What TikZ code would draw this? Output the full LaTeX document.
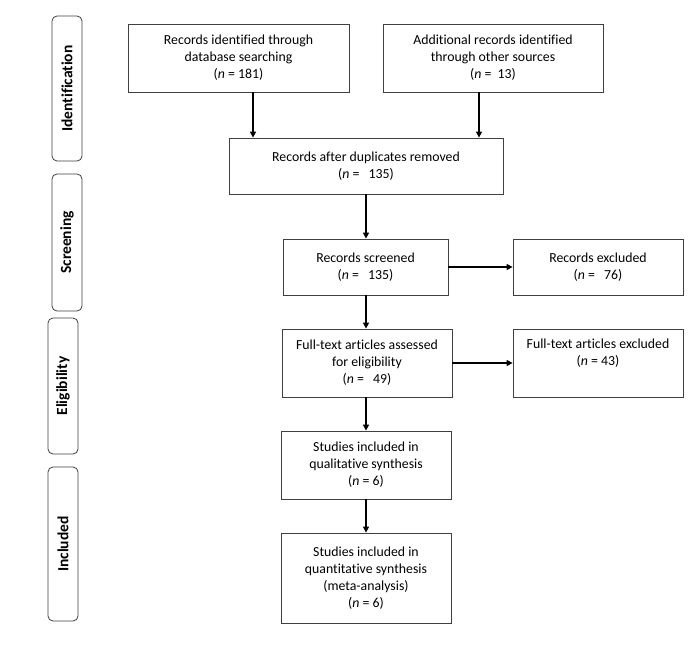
\documentclass[tikz,border=0pt]{standalone}
\usepackage{fontspec}
\setmainfont{Carlito}[RawFeature={-liga}]
\usetikzlibrary{arrows.meta}
\begin{document}
\begin{tikzpicture}[x=1pt,y=-1pt,
  box/.style={draw=black!75, line width=0.8pt, align=center, inner sep=2pt,
    font=\fontsize{13.8}{17}\selectfont},
  phase/.style={draw=black!75, line width=0.8pt, rounded corners=5pt, rotate=90,
    minimum height=30pt, inner sep=0pt, font=\fontsize{15.5}{18}\selectfont\bfseries},
  arr/.style={line width=1.4pt, -{Triangle[length=6pt,width=6pt]}}]
\fill[white] (0,0) rectangle (700,644);
\useasboundingbox (0,0) rectangle (700,644);

% phase labels
\node[phase, minimum width=145pt] (pid) at (67,88.5) {Identification};
\node[phase, minimum width=137pt] (psc) at (67,242.5) {Screening};
\node[phase, minimum width=136pt] (pel) at (63,386) {Eligibility};
\node[phase, minimum width=154pt] (pin) at (63,544) {Included};

% boxes
\node[box, minimum width=221pt, minimum height=68pt] (A) at (238.5,58)
  {Records identified through\\database searching\\(\textit{n} = 181)};
\node[box, minimum width=220pt, minimum height=68pt] (B) at (493,58)
  {Additional records identified\\through other sources\\(\textit{n} =\ \ 13)};
\node[box, minimum width=274pt, minimum height=56pt] (C) at (366,166)
  {Records after duplicates removed\\(\textit{n} =\ \ \ 135)};
\node[box, minimum width=165pt, minimum height=56pt] (D) at (365.5,267)
  {Records screened\\(\textit{n} =\ \ \ 135)};
\node[box, minimum width=170pt, minimum height=56pt] (E) at (598,267)
  {Records excluded\\(\textit{n} =\ \ \ 76)};
\node[box, minimum width=170pt, minimum height=68pt] (F) at (367,363)
  {Full-text articles assessed\\for eligibility\\(\textit{n} =\ \ \ 49)};
\node[box, minimum width=170pt, minimum height=68pt] (G) at (598,363)
  {Full-text articles excluded\\(\textit{n} = 43)\\\strut};
\node[box, minimum width=170pt, minimum height=68pt] (H) at (366,465)
  {Studies included in\\qualitative synthesis\\(\textit{n} = 6)};
\node[box, minimum width=170pt, minimum height=90pt] (I) at (366,578)
  {Studies included in\\quantitative synthesis\\(meta-analysis)\\(\textit{n} = 6)};

% connectors
\coordinate (xa) at (253,0);
\coordinate (xb) at (479,0);
\coordinate (xm) at (366,0);
\draw[arr] (A.south -| xa) -- (C.north -| xa);
\draw[arr] (B.south -| xb) -- (C.north -| xb);
\draw[arr] (C.south -| xm) -- (D.north -| xm);
\draw[arr] (D.east) -- (E.west);
\draw[arr] (D.south -| xm) -- (F.north -| xm);
\draw[arr] (F.east) -- (G.west);
\draw[arr] (F.south -| xm) -- (H.north -| xm);
\draw[arr] (H.south -| xm) -- (I.north -| xm);
\end{tikzpicture}
\end{document}
